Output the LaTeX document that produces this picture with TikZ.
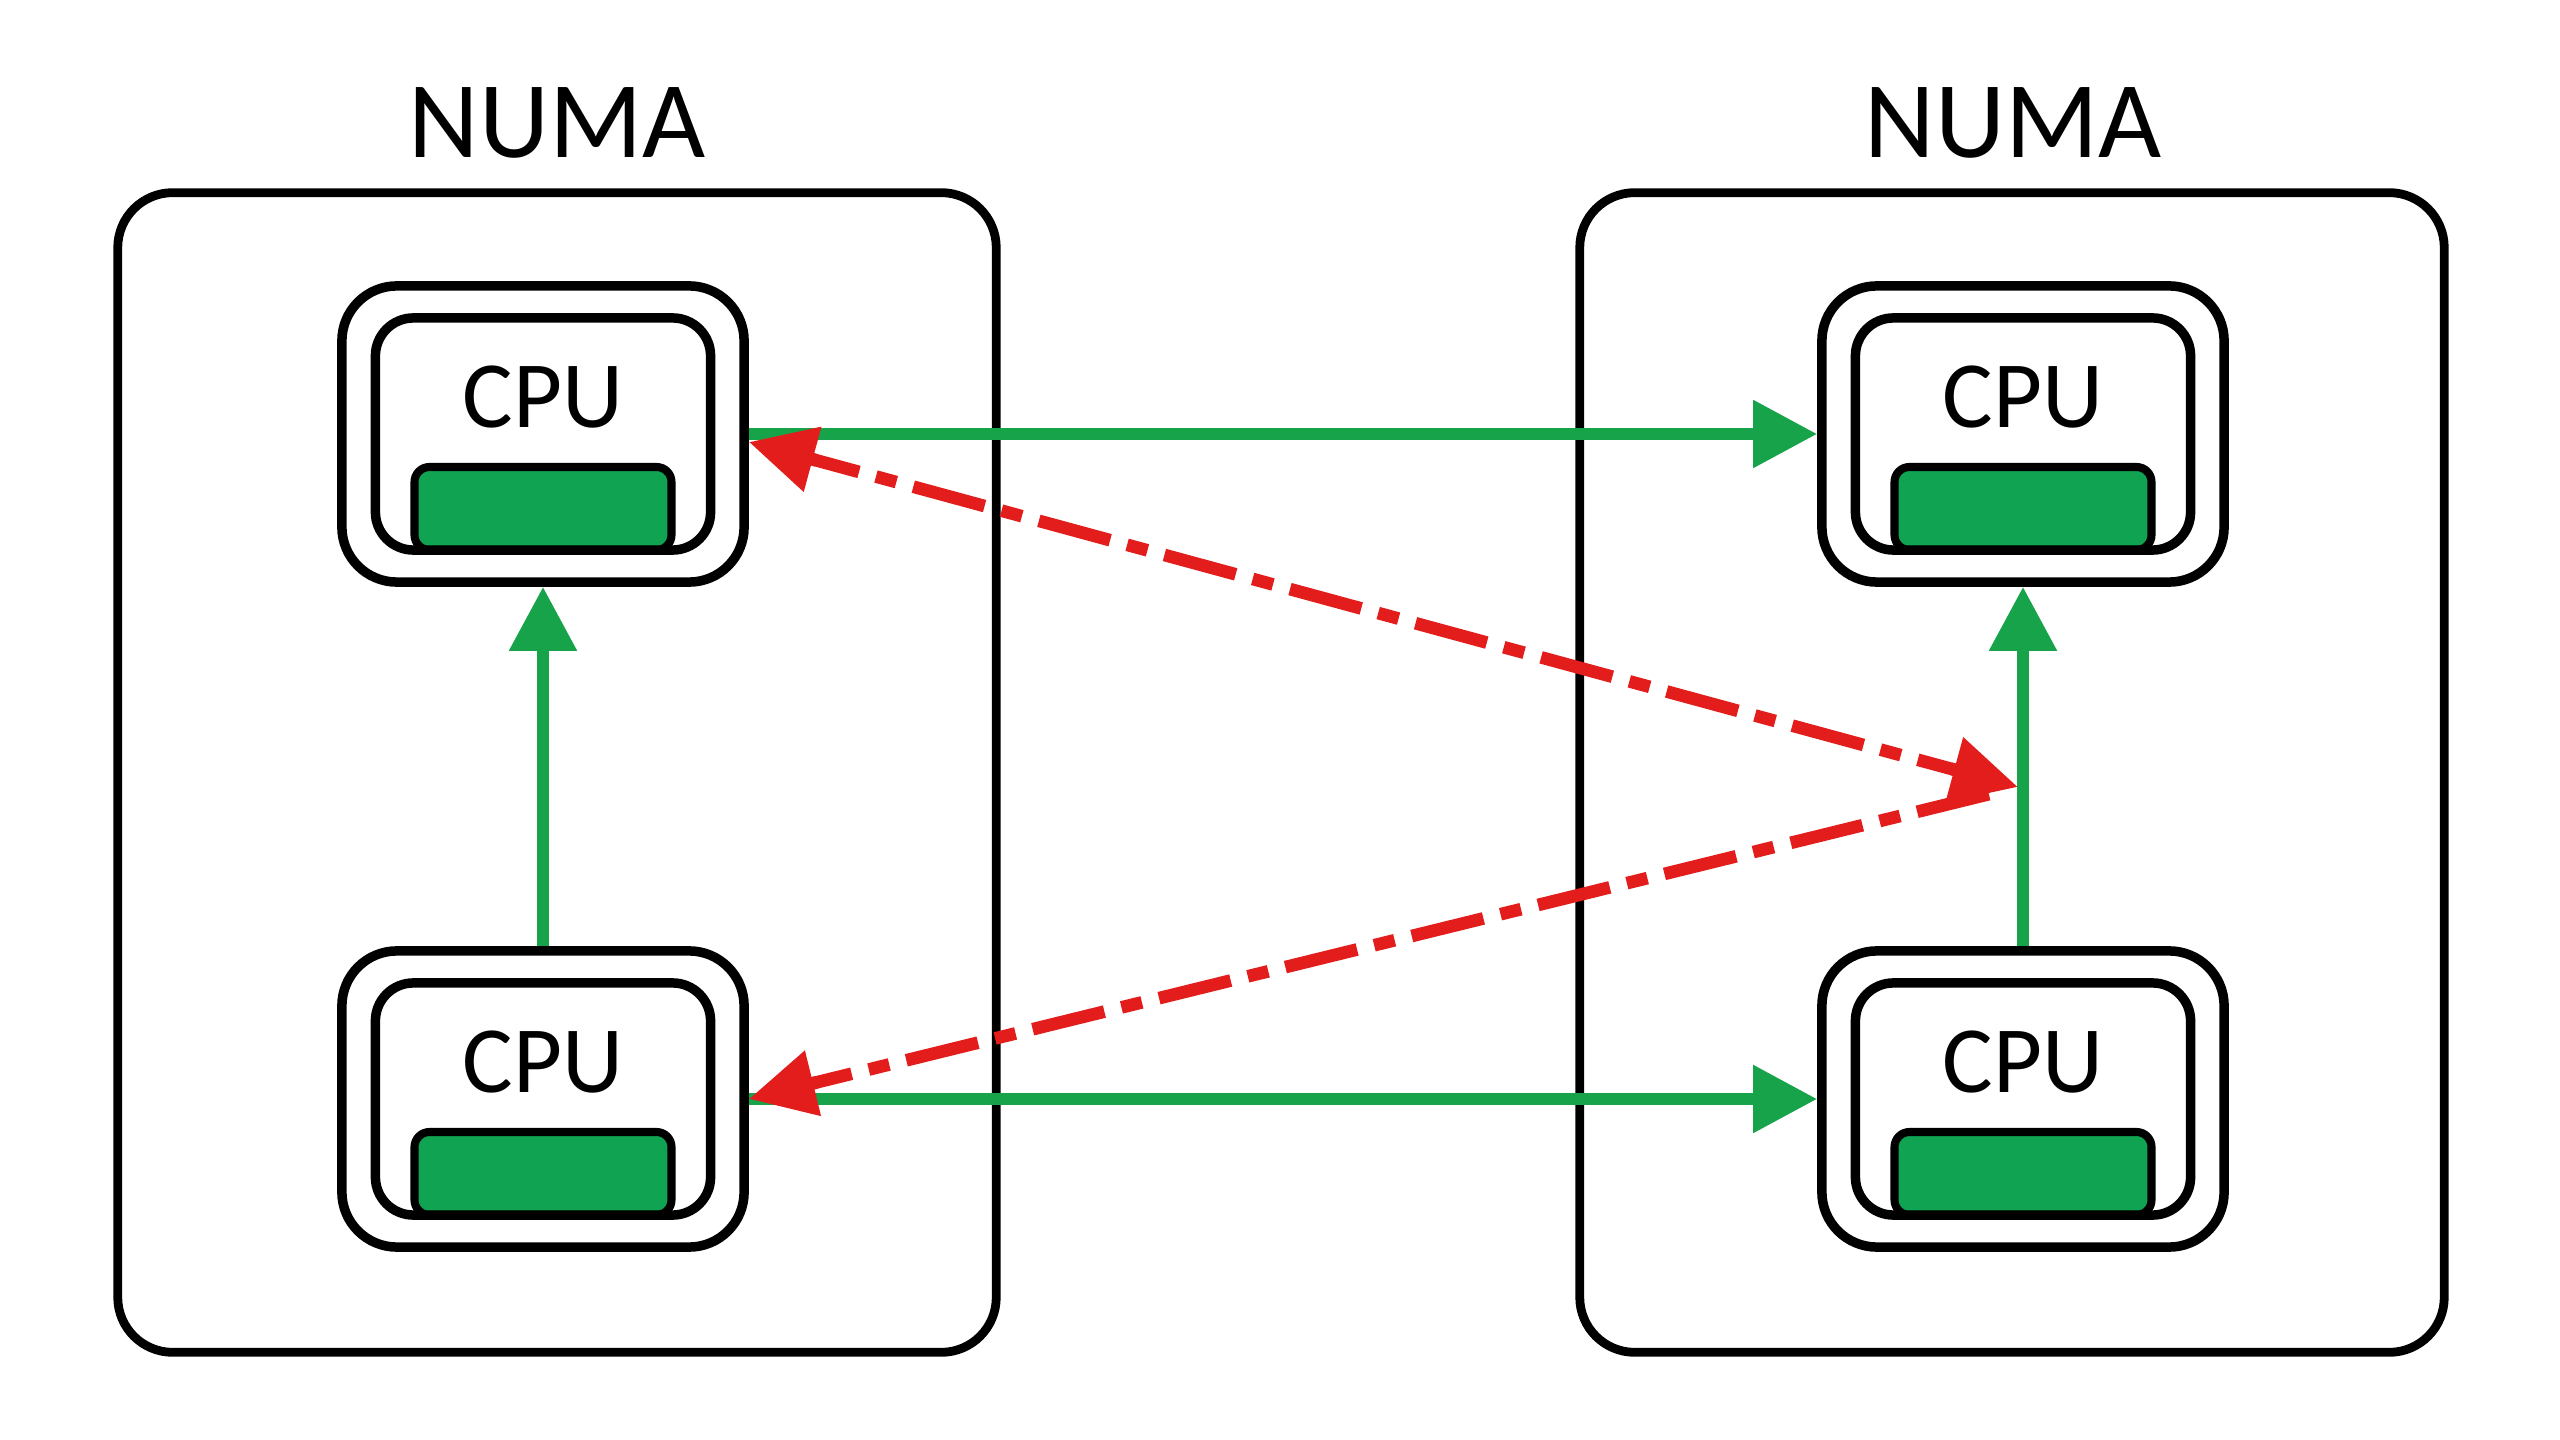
\documentclass[tikz,border=0pt]{standalone}
\usepackage{fontspec}
\setmainfont{Carlito}
\usetikzlibrary{arrows.meta,calc}
\definecolor{gline}{HTML}{17A34A}
\definecolor{gfill}{HTML}{10A352}
\definecolor{rline}{HTML}{E21D1B}
\tikzset{
  numabox/.style={draw=black, line width=2.5pt, rounded corners=0.55cm, minimum width=#1, minimum height=11.59cm, inner sep=0pt},
  numalabel/.style={font=\fontsize{31}{31}\selectfont, inner sep=0pt},
  cpuouter/.style={draw=black, line width=2.7pt, rounded corners=0.55cm, minimum width=4.02cm, minimum height=2.96cm, inner sep=0pt},
  cpuinner/.style={draw=black, line width=2.7pt, rounded corners=0.38cm, minimum width=3.35cm, minimum height=2.32cm, inner sep=0pt},
  cpubar/.style={draw=black, line width=2.3pt, fill=gfill, rounded corners=0.15cm},
  cpulabel/.style={font=\fontsize{27}{27}\selectfont, inner sep=0pt},
  garrow/.style={draw=gline, line width=3.4pt, -{Triangle[length=0.64cm, width=0.65cm]}},
  rdash/.style={draw=rline, line width=3.6pt, dash pattern=on 21pt off 5pt on 6pt off 5pt},
  rhead/.style={draw=rline, line width=3.6pt, solid, -{Triangle[length=0.66cm, width=0.64cm]}},
}
\begin{document}
\begin{tikzpicture}[x=0.01cm, y=-0.01cm]
\fill[white] (0,0) rectangle (2560,1440);
\useasboundingbox (0,0) rectangle (2560,1440);
% NUMA domains
\node[numabox=8.78cm] (numaL) at (557,772.5) {};
\node[numabox=8.64cm] (numaR) at (2012,772.5) {};
\node[numalabel] (labL) at (557,123) {NUMA};
\node[numalabel] (labR) at (2013,123) {NUMA};
% CPUs
\foreach \nm/\cx/\cy in {TL/543/434, BL/543/1099, TR/2023/434, BR/2023/1099}{
  \node[cpuouter] (cpu\nm) at (\cx,\cy) {};
  \draw[cpubar] (\cx-128.5,\cy+33) rectangle (\cx+128.5,\cy+116);
  \node[cpuinner] (inner\nm) at (\cx,\cy) {};
  \node[cpulabel] (txt\nm) at (\cx,\cy-37) {CPU};
}
% green connections
\draw[garrow] (cpuTL.east) -- (cpuTR.west);
\draw[garrow] (cpuBL.east) -- (cpuBR.west);
\draw[garrow] (cpuBL.north) -- (cpuTL.south);
\draw[garrow] (cpuBR.north) -- (cpuTR.south);
% red remote accesses
\coordinate (conv) at (2018,787);
\coordinate (redTL) at ([yshift=-0.08cm]cpuTL.east);
\coordinate (redBL) at (cpuBL.east);
\draw[rdash, shorten <=0.3cm, shorten >=0.3cm] (conv) -- (redBL);
\draw[rhead] ($(redBL)!0.7cm!(conv)$) -- (redBL);
\draw[rdash, shorten <=0.3cm, shorten >=0.3cm] (conv) -- (redTL);
\draw[rhead] ($(redTL)!0.7cm!(conv)$) -- (redTL);
\draw[rhead] ($(conv)!0.7cm!(redTL)$) -- (conv);
\end{tikzpicture}
\end{document}
